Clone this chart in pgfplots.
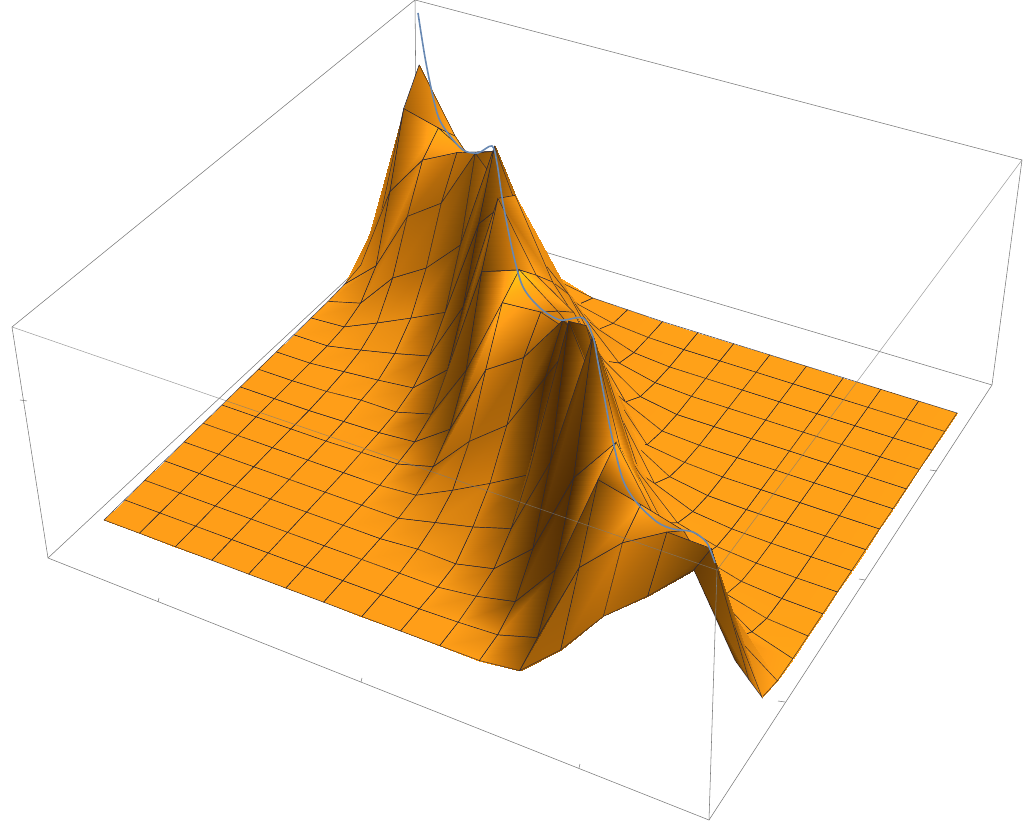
\documentclass[border=0pt]{standalone}
\usepackage{pgfplots}
\usepackage{pgfplotstable}
\pgfplotsset{compat=1.18}
% i, j = mesh line numbers; z = height above the sheet (px); s = shade
\pgfplotstableread[row sep=\\]{
i j z s\\
0 16 55 45\\ 0 15 18 55\\ 0 14 4 85\\ 0 13 1 95\\ 0 12 0 100\\ 0 11 0 100\\ 0 10 0 100\\ 0 9 0 100\\ 0 8 0 100\\ 0 7 0 100\\ 0 6 0 100\\ 0 5 0 100\\ 0 4 0 100\\ 0 3 0 100\\ 0 2 0 100\\ 0 1 0 100\\ 0 0 0 100\\
1 16 183 75\\ 1 15 155 55\\ 1 14 88 50\\ 1 13 30 70\\ 1 12 9 85\\ 1 11 2 95\\ 1 10 0 100\\ 1 9 0 100\\ 1 8 0 100\\ 1 7 0 100\\ 1 6 0 100\\ 1 5 0 100\\ 1 4 0 100\\ 1 3 0 100\\ 1 2 0 100\\ 1 1 0 100\\ 1 0 0 100\\
2 16 122 105\\ 2 15 146 120\\ 2 14 130 85\\ 2 13 90 60\\ 2 12 45 70\\ 2 11 17 90\\ 2 10 7 95\\ 2 9 3 100\\ 2 8 1 100\\ 2 7 0 100\\ 2 6 0 100\\ 2 5 0 100\\ 2 4 0 100\\ 2 3 0 100\\ 2 2 0 100\\ 2 1 0 100\\ 2 0 0 100\\
3 16 80 100\\ 3 15 125 95\\ 3 14 148 65\\ 3 13 114 55\\ 3 12 66 60\\ 3 11 33 85\\ 3 10 15 92\\ 3 9 6 95\\ 3 8 4 100\\ 3 7 1 100\\ 3 6 0 100\\ 3 5 0 100\\ 3 4 0 100\\ 3 3 0 100\\ 3 2 0 100\\ 3 1 0 100\\ 3 0 0 100\\
4 16 44 100\\ 4 15 110 90\\ 4 14 160 50\\ 4 13 175 40\\ 4 12 100 35\\ 4 11 50 40\\ 4 10 24 60\\ 4 9 10 80\\ 4 8 4 92\\ 4 7 2 98\\ 4 6 1 100\\ 4 5 0 100\\ 4 4 0 100\\ 4 3 0 100\\ 4 2 0 100\\ 4 1 0 100\\ 4 0 0 100\\
5 16 8 100\\ 5 15 38 105\\ 5 14 87 100\\ 5 13 135 95\\ 5 12 210 45\\ 5 11 150 20\\ 5 10 85 20\\ 5 9 40 30\\ 5 8 14 45\\ 5 7 5 70\\ 5 6 2 95\\ 5 5 0 100\\ 5 4 0 100\\ 5 3 0 100\\ 5 2 0 100\\ 5 1 0 100\\ 5 0 0 100\\
6 16 2 100\\ 6 15 12 100\\ 6 14 40 100\\ 6 13 76 95\\ 6 12 120 100\\ 6 11 190 95\\ 6 10 205 60\\ 6 9 150 30\\ 6 8 70 25\\ 6 7 30 35\\ 6 6 12 60\\ 6 5 3 85\\ 6 4 0 95\\ 6 3 0 100\\ 6 2 0 100\\ 6 1 0 100\\ 6 0 0 100\\
7 16 1 100\\ 7 15 4 100\\ 7 14 15 100\\ 7 13 45 90\\ 7 12 85 85\\ 7 11 115 90\\ 7 10 140 105\\ 7 9 164 140\\ 7 8 150 115\\ 7 7 102 75\\ 7 6 50 60\\ 7 5 21 75\\ 7 4 9 85\\ 7 3 3 95\\ 7 2 0 100\\ 7 1 0 100\\ 7 0 0 100\\
8 16 0 103\\ 8 15 1 103\\ 8 14 3 100\\ 8 13 10 100\\ 8 12 30 100\\ 8 11 70 95\\ 8 10 115 90\\ 8 9 135 80\\ 8 8 153 80\\ 8 7 127 55\\ 8 6 79 60\\ 8 5 41 75\\ 8 4 18 80\\ 8 3 2 90\\ 8 2 0 100\\ 8 1 0 100\\ 8 0 0 100\\
9 16 0 103\\ 9 15 0 103\\ 9 14 0 103\\ 9 13 2 103\\ 9 12 6 103\\ 9 11 19 100\\ 9 10 50 95\\ 9 9 100 70\\ 9 8 140 30\\ 9 7 177 20\\ 9 6 140 10\\ 9 5 63 25\\ 9 4 30 45\\ 9 3 11 65\\ 9 2 5 85\\ 9 1 1 100\\ 9 0 0 100\\
10 16 0 103\\ 10 15 0 103\\ 10 14 0 103\\ 10 13 0 103\\ 10 12 0 103\\ 10 11 2 103\\ 10 10 7 103\\ 10 9 29 100\\ 10 8 80 100\\ 10 7 150 85\\ 10 6 205 45\\ 10 5 230 12\\ 10 4 110 12\\ 10 3 45 18\\ 10 2 14 35\\ 10 1 3 85\\ 10 0 0 100\\
11 16 0 103\\ 11 15 0 103\\ 11 14 0 103\\ 11 13 0 103\\ 11 12 0 103\\ 11 11 0 103\\ 11 10 2 103\\ 11 9 7 103\\ 11 8 20 105\\ 11 7 50 95\\ 11 6 95 90\\ 11 5 144 130\\ 11 4 250 30\\ 11 3 130 12\\ 11 2 60 18\\ 11 1 15 30\\ 11 0 5 55\\
12 16 0 103\\ 12 15 0 103\\ 12 14 0 103\\ 12 13 0 103\\ 12 12 0 103\\ 12 11 0 103\\ 12 10 0 103\\ 12 9 1 103\\ 12 8 5 103\\ 12 7 14 105\\ 12 6 35 95\\ 12 5 70 85\\ 12 4 105 140\\ 12 3 180 115\\ 12 2 165 35\\ 12 1 100 50\\ 12 0 41 55\\
13 16 0 103\\ 13 15 0 103\\ 13 14 0 103\\ 13 13 0 103\\ 13 12 0 103\\ 13 11 0 103\\ 13 10 0 103\\ 13 9 0 103\\ 13 8 1 103\\ 13 7 4 103\\ 13 6 14 105\\ 13 5 35 100\\ 13 4 75 90\\ 13 3 115 85\\ 13 2 155 105\\ 13 1 140 75\\ 13 0 90 60\\
14 16 0 103\\ 14 15 0 103\\ 14 14 0 103\\ 14 13 0 103\\ 14 12 0 103\\ 14 11 0 103\\ 14 10 0 103\\ 14 9 0 103\\ 14 8 0 103\\ 14 7 1 103\\ 14 6 4 103\\ 14 5 13 105\\ 14 4 38 95\\ 14 3 90 90\\ 14 2 144 80\\ 14 1 166 60\\ 14 0 126 50\\
15 16 0 103\\ 15 15 0 103\\ 15 14 0 103\\ 15 13 0 103\\ 15 12 0 103\\ 15 11 0 103\\ 15 10 0 103\\ 15 9 0 103\\ 15 8 0 103\\ 15 7 0 103\\ 15 6 1 103\\ 15 5 3 105\\ 15 4 12 105\\ 15 3 29 90\\ 15 2 90 70\\ 15 1 165 30\\ 15 0 168 25\\
16 16 0 105\\ 16 15 0 105\\ 16 14 0 105\\ 16 13 0 105\\ 16 12 0 105\\ 16 11 0 105\\ 16 10 0 105\\ 16 9 0 105\\ 16 8 0 105\\ 16 7 0 105\\ 16 6 0 105\\ 16 5 0 105\\ 16 4 0 108\\ 16 3 1 105\\ 16 2 8 95\\ 16 1 50 55\\ 16 0 94 20\\
}\surfacedata
% perspective of the sheet z=0, picture pixels
\newcommand\den{(1-0.006083*\thisrow{i}+0.009219*\thisrow{j})}
\newcommand\px{((104+34.628*\thisrow{i}+21.686*\thisrow{j})/\den)}
\newcommand\py{((520+10.0375*\thisrow{i}-15.431*\thisrow{j})/\den)}
\pgfplotsset{boxline/.style={forget plot,draw=black!52,line width=0.55pt}}
\begin{document}
\begin{tikzpicture}[x=1bp,y=1bp]
\useasboundingbox (0,0) rectangle (1024,822);
\begin{axis}[
    at={(0,0)},anchor=south west,
    scale only axis,width=1024bp,height=822bp,
    view={0}{90},
    hide axis,
    xmin=0,xmax=1024,ymin=0,ymax=822,zmin=-1,zmax=1,
    y dir=reverse,
    clip=false,
    colormap={shade}{rgb255(0cm)=(58,30,0) rgb255(15cm)=(85,48,5) rgb255(40cm)=(130,78,8) rgb255(70cm)=(195,115,12) rgb255(100cm)=(255,158,24) rgb255(120cm)=(255,175,22) rgb255(150cm)=(255,215,20)},
    point meta min=0,point meta max=150,
]
% box edges behind the surface
\addplot3[boxline] coordinates {(12,327,0) (415,0,0) (1022,160,0)};
\addplot3[boxline] coordinates {(415,0,0) (417,214,0)};
\addplot3[boxline] coordinates {(48,558,0) (417,214,0) (992,385,0)};
\addplot3[boxline] coordinates {(12,327,0) (48,558,0) (709,820,0) (992,385,0) (1022,160,0)};
% surface
\addplot3[surf,shader=faceted interp,faceted color={rgb,255:red,50;green,42;blue,48},line width=0.45pt,
    mesh/rows=17,mesh/cols=17,z buffer=none,point meta=explicit]
    table[x expr={\px+\thisrow{z}*(\px-545)/(3744-\py)},y expr={\py-\thisrow{z}},z expr=0,meta=s] {\surfacedata};
% ridge curve
\addplot3[forget plot,draw={rgb,255:red,104;green,136;blue,178},line width=1.6pt,smooth] coordinates {
(418,13,0) (426,63,0) (437,113,0) (447,132,0) (463,150,0) (478,153,0) (492,146,0) (497,163,0) (503,203,0) (513,253,0) (523,287,0) (540,308,0) (560,320,0) (583,318,0) (593,337,0) (597,357,0) (603,390,0) (612,437,0) (623,480,0) (637,503,0) (657,522,0) (673,529,0) (693,532,0) (707,543,0) (715,563,0)};
% box edges in front
\addplot3[boxline,draw opacity=0.7] coordinates {(12,327,0) (717,570,0) (1022,160,0)};
\addplot3[boxline] coordinates {(717,570,0) (709,820,0)};
% ticks
\addplot3[boxline] coordinates {(158,602,0) (159,598,0)};
\addplot3[boxline] coordinates {(361,682,0) (362,678,0)};
\addplot3[boxline] coordinates {(579,768,0) (580,764,0)};
\addplot3[boxline] coordinates {(778,701,0) (785,702,0)};
\addplot3[boxline] coordinates {(859,579,0) (865,580,0)};
\addplot3[boxline] coordinates {(930,470,0) (937,471,0)};
\addplot3[boxline] coordinates {(20,400,0) (27,401,0)};
\end{axis}
\end{tikzpicture}
\end{document}
